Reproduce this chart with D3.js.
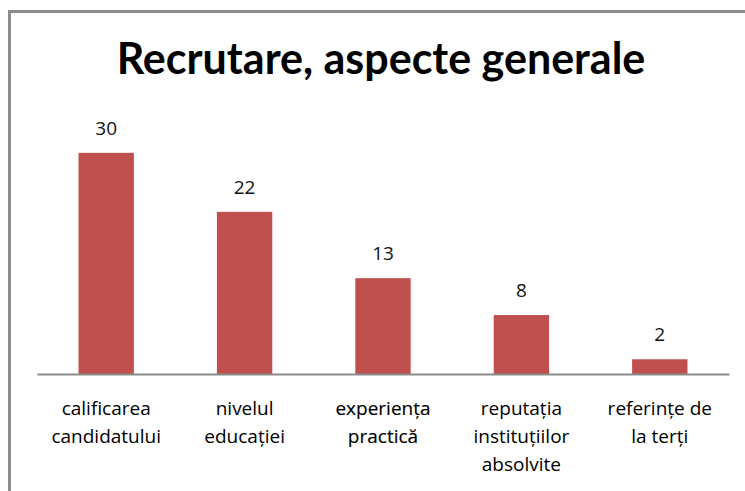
<!DOCTYPE html>
<html>
<head>
<meta charset="utf-8">
<script src="https://cdn.jsdelivr.net/npm/d3@7"></script>
<style>
  body { margin: 0; background: #fff; }
  svg text { font-family: "Open Sans", Lato, sans-serif; }
  svg text.title { font-family: Lato, sans-serif; }
</style>
</head>
<body>
<div id="chart"></div>
<script>
// chart data
const title = "Recrutare, aspecte generale";
const categories = [
    ["calificarea", "candidatului"],
    ["nivelul", "educației"],
    ["experiența", "practică"],
    ["reputația", "instituțiilor", "absolvite"],
    ["referințe de", "la terți"]
];
const values = [30, 22, 13, 8, 2];

document.addEventListener('DOMContentLoaded', function () {
    const width = 745, height = 491;
    const margin = { top: 116, right: 16, bottom: 117, left: 37 };

    const svg = d3.select("#chart")
        .append("svg")
        .attr("width", width)
        .attr("height", height);

    // outer frame (cropped on the right and bottom)
    svg.append("rect")
        .attr("x", 9.5)
        .attr("y", 11.5)
        .attr("width", width + 20)
        .attr("height", height + 20)
        .attr("fill", "#fff")
        .attr("stroke", "#8c8c8c")
        .attr("stroke-width", 3);

    // title
    svg.append("text")
        .attr("class", "title")
        .attr("x", 381)
        .attr("y", 74)
        .attr("text-anchor", "middle")
        .attr("font-size", 43)
        .attr("font-weight", "bold")
        .attr("fill", "#000")
        .text(title);

    const keys = categories.map(d => d.join(" "));

    const x = d3.scaleBand()
        .domain(keys)
        .range([margin.left, width - margin.right])
        .paddingInner(0.6)
        .paddingOuter(0.3);

    const y = d3.scaleLinear()
        .domain([0, 35])
        .range([height - margin.bottom, margin.top]);

    const g = svg.append("g");

    // bars
    g.selectAll(".bar")
        .data(values)
        .enter()
        .append("rect")
        .attr("class", "bar")
        .attr("x", (d, i) => x(keys[i]))
        .attr("y", d => y(d))
        .attr("width", x.bandwidth())
        .attr("height", d => y(0) - y(d))
        .attr("fill", "#c0504d");

    // value labels
    g.selectAll(".val")
        .data(values)
        .enter()
        .append("text")
        .attr("class", "val")
        .attr("x", (d, i) => x(keys[i]) + x.bandwidth() / 2)
        .attr("y", d => y(d) - 18)
        .attr("text-anchor", "middle")
        .attr("font-size", 19)
        .attr("fill", "#111")
        .text(d => d);

    // category axis
    const xAxis = d3.axisBottom(x).tickSize(0).tickFormat("");
    const axisG = svg.append("g")
        .attr("transform", `translate(0, ${y(0)})`)
        .call(xAxis);
    axisG.select(".domain")
        .attr("stroke", "#8c8c8c")
        .attr("stroke-width", 2);

    // multi-line category labels
    axisG.selectAll(".tick")
        .data(categories)
        .append("text")
        .attr("text-anchor", "middle")
        .attr("font-size", 19)
        .attr("fill", "#000")
        .attr("stroke", (d, i) => i === 2 ? "#000" : "none")
        .attr("stroke-width", 0.15)
        .selectAll("tspan")
        .data(d => d)
        .enter()
        .append("tspan")
        .attr("x", 0)
        .attr("y", (d, i) => 41 + i * 28)
        .text(d => d);
});
</script>
</body>
</html>
